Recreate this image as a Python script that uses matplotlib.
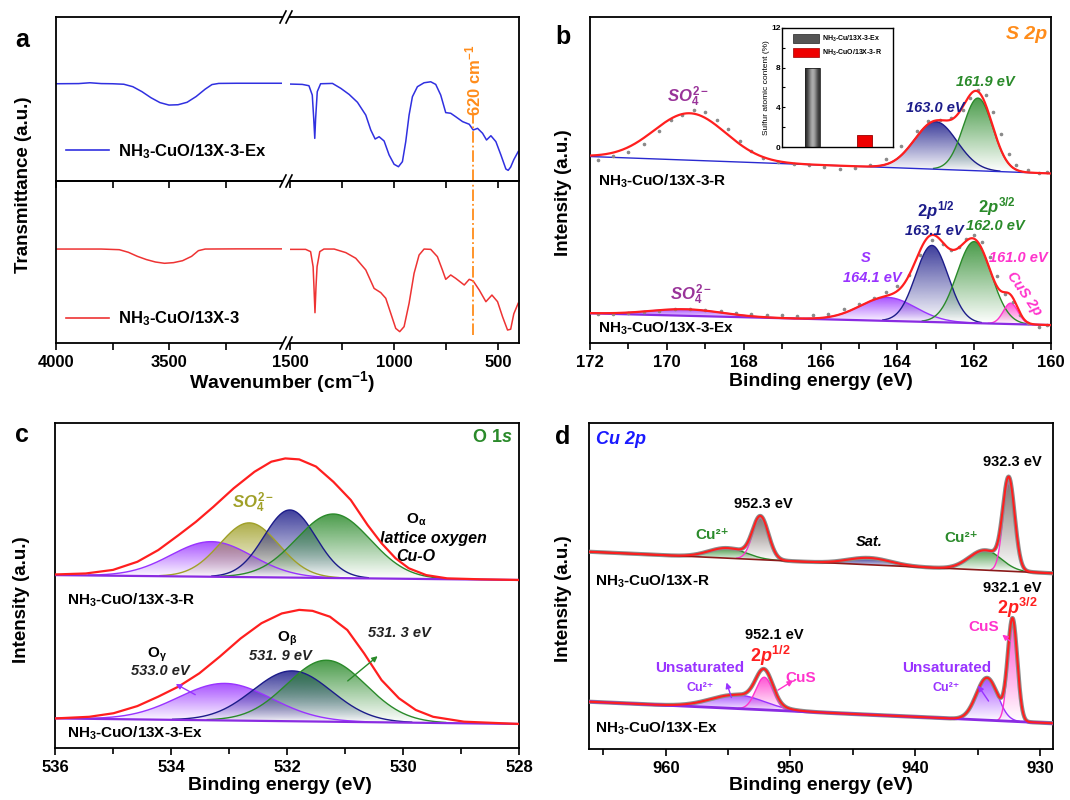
import numpy as np
import matplotlib
matplotlib.use("Agg")
import matplotlib.pyplot as plt
import matplotlib.colors as mcolors
from matplotlib.lines import Line2D
from matplotlib.patches import Rectangle, Patch

plt.rcParams['font.family'] = ['Liberation Sans', 'DejaVu Sans']
plt.rcParams['font.weight'] = 'bold'
plt.rcParams['mathtext.fontset'] = 'custom'
plt.rcParams['mathtext.rm'] = 'Liberation Sans:bold'
plt.rcParams['mathtext.it'] = 'Liberation Sans:italic:bold'
plt.rcParams['mathtext.bf'] = 'Liberation Sans:bold'
plt.rcParams['mathtext.default'] = 'rm'
plt.rcParams['axes.linewidth'] = 1.3

# ---------------- (a) FTIR, transmittance in a.u. ----------------
a_wn_left_ex = [4000, 3900, 3850, 3800, 3750, 3700, 3660, 3620, 3580, 3540, 3500,
                3460, 3420, 3380, 3340, 3310, 3280, 3200, 3100, 3000]
a_ex_left = [59.3, 59.4, 59.9, 59.4, 59.3, 59.0, 57.5, 54.5, 50.8, 47.8, 46.3,
             46.5, 48.0, 51.5, 56.0, 58.8, 59.5, 59.6, 59.6, 59.6]
a_wn_left_fr = [4000, 3800, 3720, 3680, 3640, 3600, 3560, 3520, 3480, 3440, 3400,
                3370, 3340, 3200, 3000]
a_fr_left = [58.0, 58.0, 57.6, 56.0, 53.5, 51.5, 50.0, 49.2, 49.6, 50.8, 53.5,
             57.0, 58.0, 58.1, 58.1]

a_wn_right_ex = [1497, 1441, 1409, 1393, 1386, 1381, 1377, 1369, 1353, 1296, 1256,
                 1216, 1176, 1136, 1112, 1091, 1072, 1048, 1024, 1000, 979, 960,
                 944, 928, 912, 888, 856, 824, 800, 776, 752, 728, 704, 671, 639,
                 620, 599, 575, 556, 535, 511, 487, 463, 452, 440, 425, 404]
a_ex_right = [59.1, 58.9, 58.1, 52.4, 38.0, 26.0, 38.0, 54.5, 59.3, 59.5, 56.5,
              52.8, 48.0, 40.2, 31.1, 25.6, 27.0, 24.4, 15.9, 10.2, 8.7, 11.8,
              24.0, 40.2, 51.4, 57.5, 59.9, 60.5, 58.9, 52.4, 41.7, 41.3, 39.2,
              36.2, 34.6, 31.1, 32.1, 29.1, 25.0, 27.6, 24.0, 15.9, 7.3, 6.5,
              8.5, 13.0, 17.9]
a_wn_right_fr = [1497, 1425, 1401, 1389, 1385, 1380, 1375, 1370, 1357, 1337, 1288,
                 1232, 1184, 1136, 1096, 1064, 1040, 1016, 992, 973, 952, 928,
                 904, 880, 856, 824, 792, 768, 752, 728, 704, 663, 639, 620, 591,
                 559, 530, 503, 479, 455, 440, 425, 404]
a_fr_right = [57.8, 57.8, 56.4, 47.1, 35.0, 18.7, 35.0, 47.1, 56.4, 58.0, 58.0,
              55.8, 52.3, 45.1, 33.7, 31.1, 27.6, 18.3, 9.0, 7.0, 10.1, 24.5,
              43.0, 54.3, 58.0, 57.8, 53.3, 45.1, 39.3, 42.0, 39.9, 35.8, 39.3,
              38.3, 32.7, 25.5, 29.6, 25.5, 16.2, 8.0, 8.5, 18.0, 24.5]
a_mark_wn = 620

# ---------------- (b) S 2p ----------------
b_base_be = [160, 172]
b_r_base = [52.0, 57.2]
b_r_centers = [169.4, 163.0, 161.9]
b_r_heights = [14.4, 14.6, 22.3]
b_r_fwhm = [2.2, 1.3, 0.9]
b_ex_base = [5.5, 9.1]
b_ex_centers = [169.5, 164.25, 163.1, 162.0, 161.05]
b_ex_heights = [2.0, 7.2, 23.5, 25.0, 6.4]
b_ex_fwhm = [2.2, 1.7, 1.0, 1.05, 0.45]
b_r_raw_be = [171.8, 171.4, 171.0, 170.6, 170.2, 169.9, 169.6, 169.3, 169.0, 168.7,
              168.4, 168.1, 167.8, 167.5, 167.1, 166.7, 166.3, 165.9, 165.5, 165.1,
              164.7, 164.3, 163.9, 163.5, 163.2, 162.9, 162.6, 162.3, 162.1, 161.9,
              161.7, 161.5, 161.3, 161.1, 160.9, 160.6, 160.3, 160.1]
b_r_raw = [56.0, 57.5, 58.5, 61.0, 65.0, 68.5, 70.0, 71.5, 71.0, 68.5,
           65.5, 62.0, 59.0, 56.8, 55.5, 54.8, 54.5, 54.0, 53.5, 53.8,
           54.5, 56.5, 60.5, 65.0, 68.0, 68.5, 69.0, 71.5, 75.0, 77.5,
           76.0, 71.0, 64.0, 58.0, 54.5, 53.0, 52.0, 52.5]
b_ex_raw_be = [171.8, 171.4, 171.0, 170.6, 170.2, 169.8, 169.4, 169.0, 168.6, 168.2,
               167.8, 167.4, 167.0, 166.6, 166.2, 165.8, 165.4, 165.0, 164.6, 164.3,
               164.0, 163.7, 163.4, 163.1, 162.8, 162.6, 162.4, 162.2, 162.0, 161.8,
               161.6, 161.4, 161.2, 161.0, 160.8, 160.6, 160.3, 160.1]
b_ex_raw = [9.0, 8.8, 9.2, 9.5, 9.8, 10.4, 10.5, 10.2, 9.8, 9.2,
            8.8, 8.6, 8.5, 8.3, 8.6, 9.0, 10.5, 12.0, 13.8, 15.5,
            17.5, 21.0, 27.0, 31.5, 30.5, 28.5, 29.5, 32.0, 33.0, 31.0,
            26.5, 20.5, 15.0, 12.5, 8.5, 6.0, 5.0, 5.5]
inset_samples = ['NH$_3$-Cu/13X-3-Ex', 'NH$_3$-CuO/13X-3-R']
inset_sulfur = [8.0, 1.2]

# ---------------- (c) O 1s ----------------
c_base_be = [528, 536]
c_r_base = [51.7, 53.2]
c_r_centers = [533.3, 532.65, 531.95, 531.2]
c_r_heights = [10.8, 16.7, 20.8, 19.7]
c_r_fwhm = [1.65, 1.2, 1.05, 1.5]
c_r_env_be = [536.0, 535.47, 535.0, 534.58, 534.22, 533.87, 533.57, 533.27, 532.92,
              532.56, 532.27, 532.03, 531.79, 531.5, 531.2, 530.9, 530.61, 530.37,
              530.13, 529.9, 529.6, 529.24, 528.65, 528.0]
c_r_env = [53.4, 53.7, 54.8, 57.3, 60.9, 65.5, 69.6, 74.2, 79.9, 85.0, 88.1, 89.1,
           88.8, 86.6, 81.9, 76.3, 68.6, 63.0, 58.4, 55.3, 53.2, 52.2, 51.9, 51.7]
c_ex_base = [7.4, 9.1]
c_ex_centers = [533.07, 531.91, 531.32]
c_ex_heights = [11.4, 15.5, 18.9]
c_ex_fwhm = [1.9, 1.6, 1.6]
c_ex_env_be = [536.0, 535.41, 534.99, 534.58, 534.22, 533.87, 533.51, 533.16, 532.8,
               532.44, 532.09, 531.79, 531.56, 531.26, 530.96, 530.67, 530.37,
               530.07, 529.78, 529.48, 528.95, 528.0]
c_ex_env = [9.1, 9.6, 10.7, 12.9, 15.8, 18.9, 23.0, 28.1, 33.7, 38.4, 41.4, 42.5,
            42.2, 40.4, 36.3, 29.1, 20.9, 15.3, 11.7, 9.6, 8.1, 7.4]

# ---------------- (d) Cu 2p ----------------
d_base_be = [929.0, 966.1]
d_r_base = [53.9, 60.5]
d_r_centers = [955.07, 952.4, 943.7, 934.4, 932.5]
d_r_heights = [3.1, 12.8, 2.1, 6.1, 27.0]
d_r_fwhm = [3.5, 1.5, 4.0, 3.0, 1.1]
d_ex_base = [7.9, 14.5]
d_ex_centers = [954.25, 952.1, 934.25, 932.2]
d_ex_heights = [4.2, 10.0, 13.0, 31.0]
d_ex_fwhm = [5.0, 1.6, 2.0, 0.9]

# colours
navy = '#1c1c8a'
green = '#2a8a2a'
violet = '#9933ff'
magenta = '#ff33cc'
so4_col = '#993399'
olive = '#a0a028'
red = '#ff1f1f'
orange = '#ff8c1a'
brown = '#6e605c'

W, H = 1070, 800
fig = plt.figure(figsize=(10.7, 8), dpi=100)


def box(l, r, t, b):
    return [l / W, 1 - b / H, (r - l) / W, (b - t) / H]


def gauss(x, c, h, w):
    s = w / 2.3548
    return h * np.exp(-0.5 * ((x - c) / s) ** 2)


def grad_fill(ax, x, lo, hi, color, amax=0.85):
    coll = ax.fill_between(x, lo, hi, facecolor='none', edgecolor='none', zorder=1)
    grad = np.zeros((64, 1, 4))
    grad[..., :3] = mcolors.to_rgb(color)
    grad[..., 3] = np.linspace(0.0, amax, 64)[:, None]
    im = ax.imshow(grad, extent=[x.min(), x.max(), np.min(lo), np.max(hi)],
                   origin='lower', aspect='auto', zorder=1, interpolation='bilinear')
    im.set_clip_path(coll.get_paths()[0], transform=ax.transData)


def draw_fit(ax, x, base, centers, heights, fwhms, lcols, fcols):
    total = base.copy()
    for c, h, w, lc, fc in zip(centers, heights, fwhms, lcols, fcols):
        g = gauss(x, c, h, w)
        m = g > 0.01 * h
        if fc is not None:
            grad_fill(ax, x[m], base[m], base[m] + g[m], fc)
        if lc is not None:
            ax.plot(x[m], base[m] + g[m], color=lc, lw=1.0, zorder=2)
        total = total + g
    return total


def xps_axes(ax, lim, major, minor):
    ax.set_xlim(*lim)
    ax.set_ylim(0, 100)
    ax.set_yticks([])
    ax.set_xticks(major)
    ax.set_xticks(minor, minor=True)
    ax.tick_params(axis='x', which='major', direction='out', length=5, width=1.2,
                   labelsize=12)
    ax.tick_params(axis='x', which='minor', direction='out', length=4, width=1.2)


# ================= panel a =================
ax_tl = fig.add_axes(box(56, 282, 17, 181))
ax_tr = fig.add_axes(box(290, 519, 17, 181))
ax_bl = fig.add_axes(box(56, 282, 181, 343))
ax_br = fig.add_axes(box(290, 519, 181, 343))
blue = '#3030e0'
red_a = '#ee3333'
ax_tl.plot(a_wn_left_ex, a_ex_left, color=blue, lw=1.1)
ax_tr.plot(a_wn_right_ex, a_ex_right, color=blue, lw=1.1)
ax_bl.plot(a_wn_left_fr, a_fr_left, color=red_a, lw=1.1)
ax_br.plot(a_wn_right_fr, a_fr_right, color=red_a, lw=1.1)
for ax in (ax_tl, ax_tr, ax_bl, ax_br):
    ax.set_facecolor('none')
    ax.set_ylim(0, 100)
    ax.set_yticks([])
for ax in (ax_tl, ax_bl):
    ax.set_xlim(4000, 3000)
    ax.set_xticks([4000, 3500])
    ax.set_xticks([3750, 3250], minor=True)
    ax.spines['right'].set_visible(False)
for ax in (ax_tr, ax_br):
    ax.set_xlim(1500, 400)
    ax.set_xticks([1500, 1000, 500])
    ax.set_xticks([1250, 750], minor=True)
    ax.spines['left'].set_visible(False)
for ax in (ax_tl, ax_tr):
    ax.tick_params(axis='x', which='both', direction='out', length=5, width=1.2,
                   labelbottom=False)
for ax in (ax_bl, ax_br):
    ax.tick_params(axis='x', which='both', direction='out', length=5, width=1.2,
                   labelsize=12)
ax_tr.axvline(a_mark_wn, ymin=0, ymax=0.40, color=orange, lw=1.3, ls='-.')
ax_br.axvline(a_mark_wn, ymin=0.05, ymax=1, color=orange, lw=1.3, ls='-.')
ax_tr.text(a_mark_wn, 61.5, '620 cm$^{-1}$', rotation=90, color=orange,
           fontsize=12, ha='center', va='center')
ax_tl.legend(handles=[Line2D([], [], color=blue, lw=1.2)],
             labels=['NH$_3$-CuO/13X-3-Ex'], loc='center left',
             bbox_to_anchor=(0.0, 0.18), frameon=False, fontsize=12,
             handlelength=2.6, handletextpad=0.5, borderaxespad=0.2)
ax_bl.legend(handles=[Line2D([], [], color=red_a, lw=1.2)],
             labels=['NH$_3$-CuO/13X-3'], loc='center left',
             bbox_to_anchor=(0.0, 0.15), frameon=False, fontsize=12,
             handlelength=2.6, handletextpad=0.5, borderaxespad=0.2)
for yp in (17, 181, 343):
    for xp in (283, 289):
        fig.add_artist(Line2D([(xp - 3) / W, (xp + 3) / W],
                              [1 - (yp + 6) / H, 1 - (yp - 6) / H],
                              transform=fig.transFigure, color='k', lw=1.2))
fig.text(22 / W, 1 - 40 / H, 'a', fontsize=18, ha='center', va='center')
fig.text(24 / W, 1 - 185 / H, 'Transmittance (a.u.)', rotation=90, fontsize=13.5,
         ha='center', va='center')
fig.text(282 / W, 1 - 382 / H, 'Wavenumber (cm$^{-1}$)', fontsize=14,
         ha='center', va='center')

# ================= panel b =================
ax_b = fig.add_axes(box(590, 1051, 17, 343))
xb = np.linspace(172, 160, 900)
base_r = np.interp(xb, b_base_be, b_r_base)
env_r = draw_fit(ax_b, xb, base_r, b_r_centers, b_r_heights, b_r_fwhm,
                 [None, navy, green], [None, navy, green])
ax_b.plot(xb, base_r, color='#2a2ad0', lw=1.0, zorder=3)
ax_b.plot(b_r_raw_be, b_r_raw, 'o', color='#8a8a8a', ms=1.6, zorder=4)
ax_b.plot(xb, env_r, color=red, lw=1.6, zorder=5)
base_ex = np.interp(xb, b_base_be, b_ex_base)
env_ex = draw_fit(ax_b, xb, base_ex, b_ex_centers, b_ex_heights, b_ex_fwhm,
                  [violet, violet, navy, green, magenta],
                  [violet, violet, navy, green, magenta])
ax_b.plot(xb, base_ex, color='#8a2be2', lw=1.6, zorder=3)
ax_b.plot(b_ex_raw_be, b_ex_raw, 'o', color='#8a8a8a', ms=1.6, zorder=4)
ax_b.plot(xb, env_ex, color=red, lw=1.6, zorder=5)
xps_axes(ax_b, (172, 160), range(172, 159, -2), range(171, 160, -2))

tkw = dict(fontsize=10.5, style='italic', ha='center', va='center', zorder=6)
ax_b.text(160.64, 94.5, 'S 2p', color=orange, fontsize=14, style='italic',
          ha='center', va='center')
ax_b.text(169.46, 75.6, r'$\mathit{SO}_{\mathit{4}}^{\mathit{2-}}$', color=so4_col,
          fontsize=12, ha='center', va='center')
ax_b.text(163.0, 72.0, '163.0 eV', color=navy, **tkw)
ax_b.text(161.7, 80.1, '161.9 eV', color=green, **tkw)
ax_b.text(171.8, 49.5, 'NH$_3$-CuO/13X-3-R', fontsize=11, ha='left', va='center')
ax_b.text(163.0, 40.6, r'$\mathit{2p}^{\mathit{1/2}}$', color=navy, fontsize=12,
          ha='center', va='center')
ax_b.text(163.05, 34.4, '163.1 eV', color=navy, **tkw)
ax_b.text(161.4, 42.0, r'$\mathit{2p}^{\mathit{3/2}}$', color=green, fontsize=12,
          ha='center', va='center')
ax_b.text(161.44, 35.9, '162.0 eV', color=green, **tkw)
ax_b.text(164.83, 26.0, 'S', color=violet, **tkw)
ax_b.text(164.65, 19.8, '164.1 eV', color=violet, **tkw)
ax_b.text(160.85, 26.0, '161.0 eV', color=magenta, **tkw)
ax_b.text(160.69, 15.2, 'CuS 2p', color=magenta, rotation=-55, **tkw)
ax_b.text(169.37, 14.7, r'$\mathit{SO}_{\mathit{4}}^{\mathit{2-}}$', color=so4_col,
          fontsize=12, ha='center', va='center')
ax_b.text(171.8, 4.5, 'NH$_3$-CuO/13X-3-Ex', fontsize=11, ha='left', va='center')
fig.text(563 / W, 1 - 37 / H, 'b', fontsize=18, ha='center', va='center')
fig.text(564 / W, 1 - 193 / H, 'Intensity (a.u.)', rotation=90, fontsize=13.5,
         ha='center', va='center')
fig.text(821 / W, 1 - 382 / H, 'Binding energy (eV)', fontsize=14,
         ha='center', va='center')

# inset
ax_in = fig.add_axes(box(782, 893, 28, 147))
bar_x = [0.275, 0.743]
bw = 0.135
gray_prof = np.array([[0.16], [0.45], [0.75], [0.55], [0.2]]).T
gimg = np.repeat(gray_prof[..., None], 3, axis=2)
rect = Rectangle((bar_x[0] - bw / 2, 0), bw, inset_sulfur[0], facecolor='none',
                 edgecolor='#222222', lw=0.6, zorder=3)
ax_in.add_patch(rect)
im = ax_in.imshow(gimg, extent=[bar_x[0] - bw / 2, bar_x[0] + bw / 2, 0,
                                inset_sulfur[0]], aspect='auto',
                  interpolation='bicubic', zorder=2)
im.set_clip_path(rect)
ax_in.bar(bar_x[1], inset_sulfur[1], width=bw, color='#ee0000',
          edgecolor='#990000', lw=0.6, zorder=3)
ax_in.set_xlim(0, 1)
ax_in.set_ylim(0, 12)
ax_in.set_yticks([0, 4, 8, 12])
ax_in.set_yticks([2, 6, 10], minor=True)
ax_in.set_xticks(bar_x)
ax_in.set_xticklabels([])
ax_in.tick_params(axis='both', which='both', direction='in', length=2, width=0.8,
                  labelsize=6, pad=1)
for s in ax_in.spines.values():
    s.set_linewidth(1.0)
ax_in.set_ylabel('Sulfur atomic content (%)', fontsize=6, labelpad=1)
ax_in.legend(handles=[Patch(facecolor='#555555', edgecolor='#222222', lw=0.5),
                      Patch(facecolor='#ee0000', edgecolor='#990000', lw=0.5)],
             labels=inset_samples, loc='upper left', bbox_to_anchor=(0.05, 1.0),
             fontsize=5, handlelength=3.8, handleheight=1.7, labelspacing=0.6,
             handletextpad=0.3, borderpad=0.3, frameon=True, facecolor='white',
             edgecolor='none', framealpha=1)

# ================= panel c =================
ax_c = fig.add_axes(box(55, 519, 423, 748))
xc = np.linspace(536, 528, 900)
base_cr = np.interp(xc, c_base_be, c_r_base)
draw_fit(ax_c, xc, base_cr, c_r_centers, c_r_heights, c_r_fwhm,
         [violet, olive, navy, green], [violet, olive, navy, green])
ax_c.plot(xc, base_cr, color='#8a2be2', lw=1.6, zorder=3)
ax_c.plot(c_r_env_be, c_r_env, color=red, lw=1.6, zorder=5)
base_cex = np.interp(xc, c_base_be, c_ex_base)
draw_fit(ax_c, xc, base_cex, c_ex_centers, c_ex_heights, c_ex_fwhm,
         [violet, navy, green], [violet, navy, green])
ax_c.plot(xc, base_cex, color='#8a2be2', lw=1.6, zorder=3)
ax_c.plot(c_ex_env_be, c_ex_env, color=red, lw=1.6, zorder=5)
xps_axes(ax_c, (536, 528), range(536, 527, -2), range(535, 528, -2))

ax_c.text(0.985, 0.954, r'O $\mathit{1s}$', transform=ax_c.transAxes, color=green,
          fontsize=13, ha='right', va='center')
ax_c.text(532.59, 75.3, r'$\mathit{SO}_{\mathit{4}}^{\mathit{2-}}$', color=olive,
          fontsize=12, ha='center', va='center')
ax_c.text(529.78, 70.2, r'O$_{\alpha}$', fontsize=11, ha='center', va='center')
ax_c.text(529.48, 64.5, 'lattice oxygen', fontsize=11.5, style='italic',
          ha='center', va='center')
ax_c.text(529.78, 58.9, 'Cu-O', fontsize=11.5, style='italic', ha='center',
          va='center')
ax_c.text(535.8, 45.5, 'NH$_3$-CuO/13X-3-R', fontsize=11, ha='left', va='center')
ax_c.text(534.25, 28.8, r'O$_{\gamma}$', fontsize=11, ha='center', va='center')
ax_c.text(534.19, 23.6, '533.0 eV', color='#222222', **tkw)
ax_c.text(532.0, 33.6, r'O$_{\beta}$', fontsize=11, ha='center', va='center')
ax_c.text(532.12, 28.3, '531. 9 eV', color='#222222', **tkw)
ax_c.text(530.07, 35.3, '531. 3 eV', color='#222222', **tkw)
ax_c.text(535.8, 4.5, 'NH$_3$-CuO/13X-3-Ex', fontsize=11, ha='left', va='center')
akw = dict(arrowstyle='-|>', lw=1.0, mutation_scale=8)
ax_c.annotate('', xy=(533.96, 20.1), xytext=(533.54, 16.0),
              arrowprops=dict(color=violet, **akw), zorder=6)
ax_c.annotate('', xy=(530.4, 28.8), xytext=(530.99, 20.1),
              arrowprops=dict(color=green, **akw), zorder=6)
fig.text(22 / W, 1 - 435 / H, 'c', fontsize=18, ha='center', va='center')
fig.text(22 / W, 1 - 600 / H, 'Intensity (a.u.)', rotation=90, fontsize=13.5,
         ha='center', va='center')
fig.text(280 / W, 1 - 786 / H, 'Binding energy (eV)', fontsize=14,
         ha='center', va='center')

# ================= panel d =================
ax_d = fig.add_axes(box(589, 1053, 423, 749))
xd = np.linspace(966.15, 928.96, 1600)
base_dr = np.interp(xd, d_base_be, d_r_base)
env_dr = draw_fit(ax_d, xd, base_dr, d_r_centers, d_r_heights, d_r_fwhm,
                  [green, magenta, navy, green, magenta],
                  [green, brown, navy, green, brown])
ax_d.plot(xd, env_dr, color='#8c8c8c', lw=3.0, zorder=4)
ax_d.plot(xd, base_dr, color='#8b1a1a', lw=1.2, zorder=4)
ax_d.plot(xd, env_dr, color=red, lw=1.5, zorder=5)
base_dex = np.interp(xd, d_base_be, d_ex_base)
env_dex = draw_fit(ax_d, xd, base_dex, d_ex_centers, d_ex_heights, d_ex_fwhm,
                   [violet, magenta, violet, magenta],
                   [violet, magenta, violet, magenta])
ax_d.plot(xd, env_dex, color='#8c8c8c', lw=3.0, zorder=4)
ax_d.plot(xd, base_dex, color='#8a2be2', lw=2.0, zorder=4)
ax_d.plot(xd, env_dex, color=red, lw=1.5, zorder=5)
xps_axes(ax_d, (966.15, 928.96), [960, 950, 940, 930], [965, 955, 945, 935])

ax_d.text(965.6, 94.8, 'Cu 2p', color='#1a1aff', fontsize=13, style='italic',
          ha='left', va='center')
dkw = dict(fontsize=10.5, ha='center', va='center', zorder=6)
ax_d.text(932.2, 88.1, '932.3 eV', **dkw)
ax_d.text(952.14, 75.2, '952.3 eV', **dkw)
ax_d.text(956.3, 65.6, 'Cu²⁺', color=green, fontsize=11, ha='center',
          va='center')
ax_d.text(943.7, 63.6, 'Sat.', style='italic', **dkw)
ax_d.text(936.3, 64.6, 'Cu²⁺', color=green, fontsize=11, ha='center',
          va='center')
ax_d.text(965.67, 51.3, 'NH$_3$-CuO/13X-R', fontsize=11, ha='left', va='center')
ax_d.text(932.2, 49.3, '932.1 eV', **dkw)
ax_d.text(931.8, 43.2, r'$\mathit{2p}^{\mathit{3/2}}$', color=red, fontsize=13,
          ha='center', va='center')
ax_d.text(934.5, 37.5, 'CuS', color=magenta, fontsize=11, ha='center', va='center')
ax_d.text(951.3, 35.0, '952.1 eV', **dkw)
ax_d.text(951.6, 28.5, r'$\mathit{2p}^{\mathit{1/2}}$', color=red, fontsize=13,
          ha='center', va='center')
ax_d.text(957.26, 24.7, 'Unsaturated', color=violet, fontsize=11, ha='center',
          va='center')
ax_d.text(957.26, 18.6, 'Cu²⁺', color=violet, fontsize=9, ha='center',
          va='center')
ax_d.text(949.2, 21.7, 'CuS', color=magenta, fontsize=11, ha='center', va='center')
ax_d.text(937.5, 24.7, 'Unsaturated', color=violet, fontsize=11, ha='center',
          va='center')
ax_d.text(937.5, 18.6, 'Cu²⁺', color=violet, fontsize=9, ha='center',
          va='center')
ax_d.text(965.67, 6.3, 'NH$_3$-CuO/13X-Ex', fontsize=11, ha='left', va='center')
ax_d.annotate('', xy=(955.2, 21.2), xytext=(954.66, 15.0),
              arrowprops=dict(color=violet, **akw), zorder=6)
ax_d.annotate('', xy=(949.6, 21.4), xytext=(951.2, 17.6),
              arrowprops=dict(color=magenta, **akw), zorder=6)
ax_d.annotate('', xy=(935.1, 20.2), xytext=(934.0, 14.0),
              arrowprops=dict(color=violet, **akw), zorder=6)
ax_d.annotate('', xy=(933.2, 35.6), xytext=(932.2, 32.5),
              arrowprops=dict(color=magenta, **akw), zorder=6)
fig.text(563 / W, 1 - 437 / H, 'd', fontsize=18, ha='center', va='center')
fig.text(564 / W, 1 - 599 / H, 'Intensity (a.u.)', rotation=90, fontsize=13.5,
         ha='center', va='center')
fig.text(821 / W, 1 - 786 / H, 'Binding energy (eV)', fontsize=14,
         ha='center', va='center')

fig.savefig('out.png', dpi=100, facecolor='white')
